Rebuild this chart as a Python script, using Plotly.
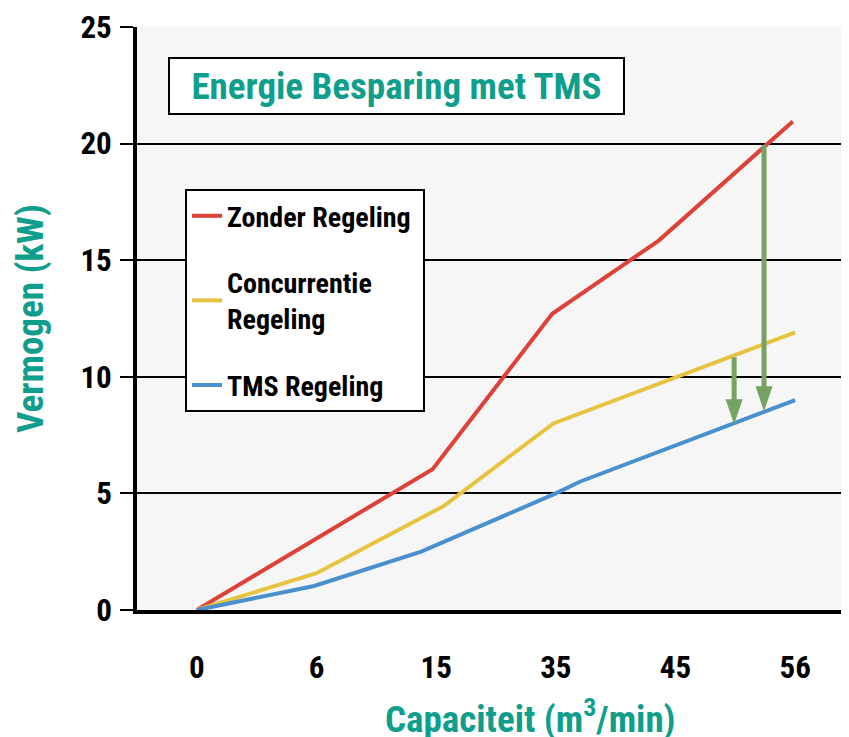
import plotly.graph_objects as go

# ---- data ----
cap_labels = ["0", "6", "15", "35", "45", "56"]

zonder_x = [0, 1.97, 2.97, 3.86, 4.98]
zonder_y = [0, 6.04, 12.7, 15.84, 20.95]

conc_x = [0, 1.0, 2.06, 2.98, 5.0]
conc_y = [0, 1.58, 4.45, 8.0, 11.9]

tms_x = [0, 0.98, 1.875, 3.0, 3.2, 5.0]
tms_y = [0, 1.03, 2.5, 5.0, 5.5, 9.0]

arrow_x = [4.49, 4.74]
arrow_from = [10.9, 20.0]
arrow_to = [7.96, 8.52]

# ---- styles ----
FONT = "Roboto Condensed, Open Sans Condensed, sans-serif"
TEAL = "#0f9e8c"
RED = "#dd4137"
YELLOW = "#e6c440"
BLUE = "#4a90cf"
GREEN = "#76a262"

fig = go.Figure()
fig.add_trace(go.Scatter(x=zonder_x, y=zonder_y, mode="lines", name="<b>Zonder Regeling</b>&nbsp;",
                         line=dict(color=RED, width=4), legendgroup="a"))
fig.add_trace(go.Scatter(x=conc_x, y=conc_y, mode="lines", name="<b>Concurrentie<br>Regeling</b>",
                         line=dict(color=YELLOW, width=4), legendgroup="b"))
fig.add_trace(go.Scatter(x=tms_x, y=tms_y, mode="lines", name="<b>TMS Regeling</b>",
                         line=dict(color=BLUE, width=4), legendgroup="c"))

annotations = []
shapes = []
for xa, y0, y1 in zip(arrow_x, arrow_from, arrow_to):
    annotations.append(dict(x=xa, y=y1, ax=xa, ay=y0, axref="x", ayref="y", xref="x", yref="y",
                            text="", showarrow=True, arrowhead=0, arrowwidth=5,
                            arrowcolor=GREEN, standoff=20))
    shapes.append(dict(type="path", xref="x", yref="y", xsizemode="pixel", ysizemode="pixel",
                       xanchor=xa, yanchor=y1, path="M-8.5,25L8.5,25L0,0Z",
                       fillcolor=GREEN, line=dict(width=0)))

annotations.append(dict(xref="paper", yref="paper", x=0.3645, y=0.899, xanchor="center", yanchor="middle",
                        text="<b>Energie Besparing met TMS</b>", showarrow=False,
                        font=dict(family=FONT, size=37, color=TEAL),
                        bgcolor="white", bordercolor="black", borderwidth=2, borderpad=2,
                        width=449, height=50))

# x-axis title (placed right of centre, as in the original)
annotations.append(dict(xref="paper", yref="paper", x=0.552, y=0, xanchor="center", yanchor="middle",
                        yshift=-106, showarrow=False,
                        text="<b>Capaciteit (m<sup>3</sup>/min)</b>",
                        font=dict(family=FONT, size=37, color=TEAL)))

n = len(cap_labels)
fig.update_layout(
    width=849, height=737,
    margin=dict(l=129, r=8, t=19, b=135),
    paper_bgcolor="white", plot_bgcolor="#f6f6f6",
    font=dict(family=FONT, color="black"),
    showlegend=True,
    legend=dict(x=0.0674, y=0.722, xanchor="left", yanchor="top",
                bgcolor="white", bordercolor="black", borderwidth=2,
                font=dict(family=FONT, size=28, color="black"),
                tracegroupgap=27, traceorder="grouped"),
    xaxis=dict(range=[-0.5, n - 0.55], tickvals=list(range(n)), ticktext=[f"<b>{t}</b>" for t in cap_labels],
               ticks="", showgrid=False, zeroline=False, showline=True, linewidth=4, linecolor="black",
               tickfont=dict(family=FONT, size=31, color="black"), ticklabelstandoff=27, automargin=False),
    xaxis2=dict(overlaying="x", matches="x", range=[-0.5, n - 0.55], anchor="y", side="bottom",
                tickvals=[i - 0.5 for i in range(n)], ticks="outside", ticklen=19, tickwidth=2,
                tickcolor="black", showticklabels=False, showgrid=False, zeroline=False, showline=False,
                automargin=False),
    yaxis=dict(range=[0, 25], dtick=5, ticks="outside", ticklen=13, tickwidth=2, tickcolor="black",
               showline=True, linewidth=4, linecolor="black", showgrid=True, gridcolor="black", gridwidth=2,
               zeroline=False, tickfont=dict(family=FONT, size=31, color="black"),
               tickprefix="<b>", ticksuffix="</b>", ticklabelstandoff=2, automargin=False,
               title=dict(text="<b>Vermogen (kW)</b>", standoff=27,
                          font=dict(family=FONT, size=37, color=TEAL))),
    annotations=annotations,
    shapes=shapes,
)

fig.write_html("out.html")
